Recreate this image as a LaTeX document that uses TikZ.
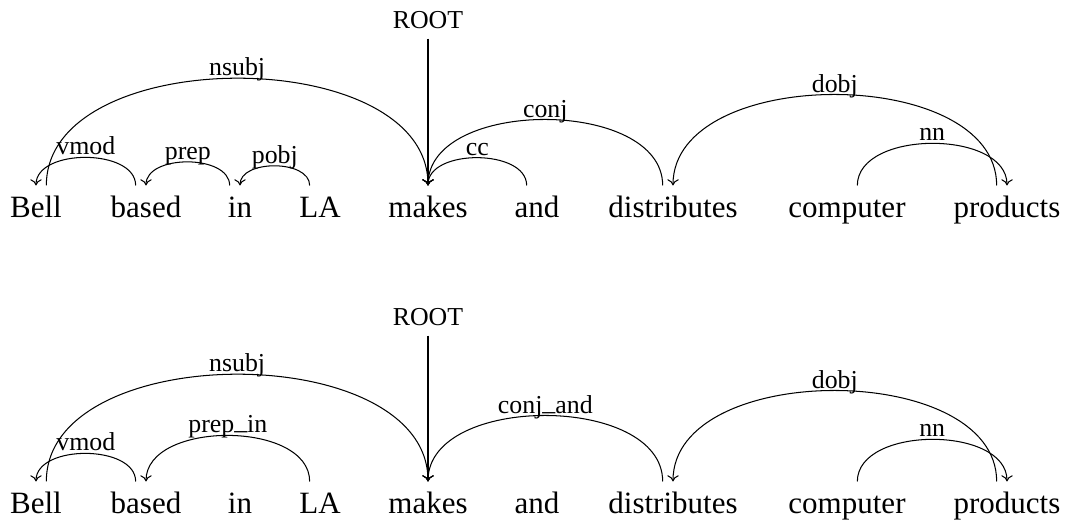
\documentclass[tikz,border=0pt]{standalone}
\usepackage{fontspec}
\setmainfont{Liberation Serif}
\usetikzlibrary{arrows.meta}

\begin{document}
\begin{tikzpicture}[x=0.387pt,y=0.387pt,>={To[length=2.4pt,width=4.4pt]},
  word/.style={anchor=base,font=\fontsize{12}{14}\selectfont,text height=8.5pt,text depth=2.5pt,inner sep=3.5pt},
  rootlbl/.style={anchor=base,font=\fontsize{10}{12}\selectfont,text depth=0pt,inner sep=3.9pt},
  lbl/.style={midway,anchor=base,yshift=1pt,inner sep=0pt,font=\fontsize{10}{12}\selectfont},
  dep/.style={out=90,in=90,looseness=.96}]
\useasboundingbox (0,0) rectangle (1071,522);
% basic dependencies
\node[word] (bell1) at (36,305) {Bell};
\node[word] (based1) at (146,305) {based};
\node[word] (in1) at (240,305) {in};
\node[word] (la1) at (320,305) {LA};
\node[word] (makes1) at (428,305) {makes};
\node[word] (and1) at (537,305) {and};
\node[word] (distr1) at (673,305) {distributes};
\node[word] (comp1) at (847,305) {computer};
\node[word] (prod1) at (1007,305) {products};
\node[rootlbl] (root1) at (428,494) {ROOT};
\draw[->] (root1) -- (makes1);
\path[->] ([xshift=4pt]bell1.north) edge[dep] node[lbl] (nsubj1) {nsubj} (makes1.north)
  ([xshift=-4pt]based1.north) edge[dep] node[lbl] (vmod1) {vmod} (bell1.north)
  ([xshift=-4pt]in1.north) edge[dep] node[lbl] (prep1) {prep} (based1.north)
  ([xshift=-4pt]la1.north) edge[dep] node[lbl] (pobj1) {pobj} (in1.north)
  ([xshift=-4pt]and1.north) edge[dep] node[lbl] (cc1) {cc} (makes1.north)
  ([xshift=-4pt]distr1.north) edge[dep] node[lbl] (conj1) {conj} (makes1.north)
  ([xshift=-4pt]prod1.north) edge[dep] node[lbl] (dobj1) {dobj} (distr1.north)
  ([xshift=4pt]comp1.north) edge[dep] node[lbl] (nn1) {nn} (prod1.north);
% collapsed dependencies
\node[word] (bell2) at (36,9) {Bell};
\node[word] (based2) at (146,9) {based};
\node[word] (in2) at (240,9) {in};
\node[word] (la2) at (320,9) {LA};
\node[word] (makes2) at (428,9) {makes};
\node[word] (and2) at (537,9) {and};
\node[word] (distr2) at (673,9) {distributes};
\node[word] (comp2) at (847,9) {computer};
\node[word] (prod2) at (1007,9) {products};
\node[rootlbl] (root2) at (428,197) {ROOT};
\draw[->] (root2) -- (makes2);
\path[->] ([xshift=4pt]bell2.north) edge[dep] node[lbl] (nsubj2) {nsubj} (makes2.north)
  ([xshift=-4pt]based2.north) edge[dep] node[lbl] (vmod2) {vmod} (bell2.north)
  ([xshift=-4pt]la2.north) edge[dep] node[lbl] (prepin2) {prep\raisebox{.25ex}{\_}in} (based2.north)
  ([xshift=-4pt]distr2.north) edge[dep] node[lbl] (conjand2) {conj\raisebox{.25ex}{\_}and} (makes2.north)
  ([xshift=-4pt]prod2.north) edge[dep] node[lbl] (dobj2) {dobj} (distr2.north)
  ([xshift=4pt]comp2.north) edge[dep] node[lbl] (nn2) {nn} (prod2.north);
\end{tikzpicture}
\end{document}
